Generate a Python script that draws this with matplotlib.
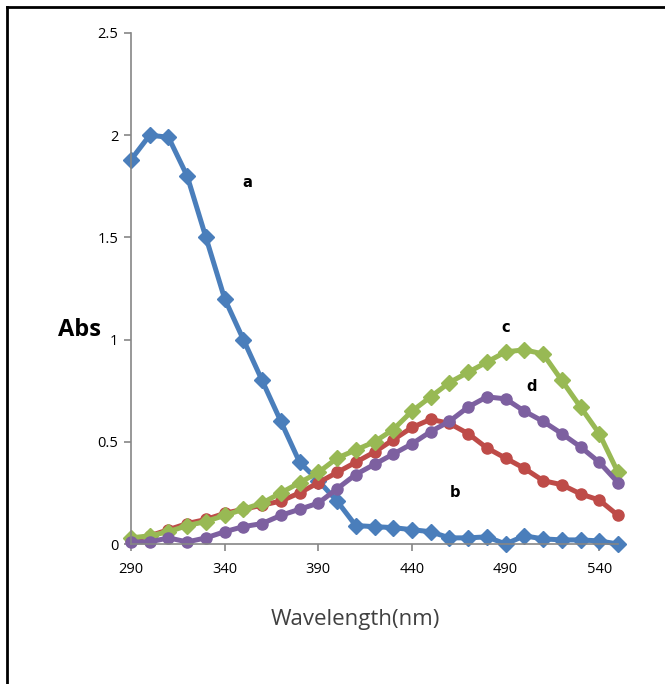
import matplotlib
matplotlib.use("Agg")
import matplotlib.pyplot as plt
from matplotlib.lines import Line2D

# wavelengths (nm), one point every 10 nm
wavelength = list(range(290, 551, 10))

# absorbance
abs_a = [1.88, 2.00, 1.99, 1.80, 1.50, 1.20, 1.00, 0.80, 0.60, 0.40,
         0.31, 0.21, 0.09, 0.085, 0.08, 0.07, 0.06, 0.03, 0.03, 0.035,
         0.00, 0.04, 0.025, 0.02, 0.02, 0.015, 0.00]
abs_b = [0.02, 0.04, 0.07, 0.10, 0.12, 0.15, 0.17, 0.19, 0.21, 0.25,
         0.30, 0.35, 0.40, 0.45, 0.51, 0.57, 0.61, 0.59, 0.54, 0.47,
         0.42, 0.37, 0.31, 0.29, 0.245, 0.215, 0.14]
abs_c = [0.03, 0.04, 0.06, 0.09, 0.11, 0.14, 0.17, 0.20, 0.25, 0.30,
         0.35, 0.42, 0.46, 0.50, 0.56, 0.65, 0.72, 0.79, 0.84, 0.89,
         0.94, 0.95, 0.93, 0.80, 0.67, 0.54, 0.35]
abs_d = [0.01, 0.01, 0.03, 0.01, 0.03, 0.06, 0.085, 0.10, 0.14, 0.17,
         0.20, 0.27, 0.34, 0.39, 0.44, 0.49, 0.55, 0.60, 0.67, 0.72,
         0.71, 0.65, 0.60, 0.54, 0.475, 0.40, 0.30]

series = [
    ("a", abs_a, "#4A7EBB", "D", 8),
    ("b", abs_b, "#BE4B48", "o", 8),
    ("c", abs_c, "#98B954", "D", 8),
    ("d", abs_d, "#7D60A0", "o", 8),
]
# where the curve letters sit (wavelength, abs)
label_pos = {"a": (352, 1.77), "b": (463, 0.25), "c": (490, 1.06), "d": (504, 0.77)}

plt.rcParams["font.family"] = ["Open Sans", "DejaVu Sans"]

fig = plt.figure(figsize=(6.65, 6.84), dpi=100)
ax = fig.add_axes([131 / 665, 140 / 684, 487 / 665, 511 / 684])

for name, vals, color, marker, ms in series:
    ax.plot(wavelength, vals, color=color, lw=3.6, marker=marker, ms=ms,
            markeredgecolor=color, solid_joinstyle="round", clip_on=False)
    lx, ly = label_pos[name]
    ax.text(lx, ly, name, fontsize=10.5, fontweight="bold", family="DejaVu Sans",
            ha="center", va="center")

ax.set_xlim(290, 550)
ax.set_ylim(0, 2.5)
ax.set_xticks(range(290, 541, 50))
ax.set_yticks([0, 0.5, 1, 1.5, 2, 2.5])
ax.set_yticklabels(["0", "0.5", "1", "1.5", "2", "2.5"])
ax.tick_params(axis="both", direction="out", length=5, width=1.2, color="#868686",
               labelsize=10.5, pad=4)
ax.tick_params(axis="x", pad=8)
for s in ["top", "right"]:
    ax.spines[s].set_visible(False)
for s in ["left", "bottom"]:
    ax.spines[s].set_color("#868686")
    ax.spines[s].set_linewidth(1.2)

fig.text(58 / 665, 1 - 330 / 684, "Abs", fontsize=17, fontweight="bold",
         ha="left", va="center")
fig.text(355 / 665, 1 - 620 / 684, "Wavelength(nm)", fontsize=16, color="#404040",
         ha="center", va="center")

# outer frame (top and left edges only are visible)
fig.add_artist(Line2D([7 / 665, 1], [1 - 7 / 684, 1 - 7 / 684], color="black", lw=2))
fig.add_artist(Line2D([7 / 665, 7 / 665], [0, 1 - 7 / 684], color="black", lw=2))

fig.savefig("out.png", dpi=100)
